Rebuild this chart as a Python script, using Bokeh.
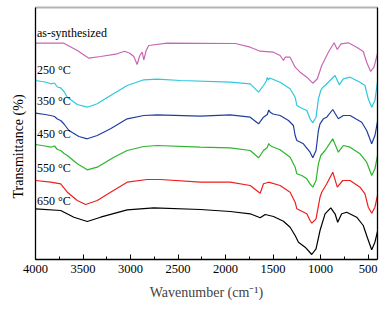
import math
from bokeh.plotting import figure
from bokeh.models import Range1d, SingleIntervalTicker, LinearAxis, FixedTicker, Title
from bokeh.core.properties import value
from bokeh.embed import file_html
from bokeh.resources import INLINE

# ---------------- data (wavenumber cm-1, transmittance in arbitrary offset units) ----------------
wn_as = [4000, 4000, 3701, 3560, 3438, 3315, 3140, 3063, 3007, 2965, 2930, 2902, 2877, 2860, 2835, 2808,
         2615, 1897, 1740, 1635, 1495, 1425, 1390, 1372, 1320, 1267, 1215, 1144, 1081, 1033, 987, 917,
         857, 823, 784, 707, 619, 550, 514, 472, 437, 400]
t_as = [169, 216.3, 216.3, 209, 201.3, 203, 205.7, 208.3, 206.3, 203, 195, 204, 207.3, 199.7, 209, 214,
        216.3, 216, 212.3, 208.3, 207.3, 204, 199, 202.3, 202.3, 192.3, 187.3, 182.3, 176.3, 180.7, 194, 207.3,
        216.7, 210, 215.7, 216.7, 212.3, 208, 197.3, 188, 192.3, 206]

wn_250 = [4000, 3900, 3840, 3800, 3770, 3735, 3700, 3665, 3560, 3455, 3350, 3210, 3035, 2860, 2720, 2475,
          1950, 1740, 1652, 1600, 1570, 1560, 1547, 1535, 1425, 1320, 1267, 1249, 1197, 1144, 1110, 1081,
          1047, 1022, 997, 976, 952, 847, 802, 760, 689, 584, 532, 497, 461, 427, 400]
t_250 = [179, 177.5, 175.7, 176.5, 172.5, 171.7, 168, 162.3, 155, 152.3, 155.7, 164, 174, 179.7, 180.3, 179,
         177.3, 175.7, 167.3, 174, 178.5, 182, 179.5, 181.5, 177.3, 170.7, 162.3, 154, 151.3, 149, 140.7, 136.7,
         142.3, 160.7, 169, 172.3, 174, 184, 174.7, 180.7, 182.3, 177.3, 174, 160.7, 152.3, 159, 178]

wn_350 = [4000, 3900, 3840, 3800, 3770, 3735, 3700, 3648, 3543, 3455, 3350, 3210, 3035, 2860, 2720, 2265,
          1950, 1740, 1652, 1600, 1560, 1545, 1530, 1500, 1425, 1337, 1285, 1267, 1249, 1180, 1110, 1081,
          1047, 1022, 1005, 970, 934, 871, 812, 760, 689, 566, 514, 461, 427, 400]
t_350 = [146.3, 145, 144, 143, 140.5, 139, 135.5, 129, 123, 120.7, 124, 130.7, 140.7, 144, 144.7, 143.3,
         144.7, 142.3, 135.7, 142.3, 145, 149.5, 147.3, 145.5, 144, 139, 134, 124, 119, 115.7, 107.3, 101.7,
         109, 129, 135.7, 140.7, 142.3, 150, 140.7, 144, 144, 137.3, 129, 115.7, 124, 138]

wn_450 = [4000, 3900, 3840, 3800, 3770, 3735, 3700, 3665, 3560, 3455, 3350, 3175, 3035, 2860, 2720, 2265,
          1950, 1740, 1652, 1600, 1560, 1545, 1530, 1500, 1425, 1320, 1267, 1249, 1197, 1144, 1110, 1081,
          1047, 1022, 997, 952, 871, 812, 760, 689, 584, 514, 461, 427, 400]
t_450 = [115, 113.5, 112.3, 113.5, 110, 109, 106, 104, 95.7, 89.7, 92.3, 102.3, 109, 113, 114, 112.3,
         111.7, 109, 101.7, 109, 112, 116, 114, 112.5, 109.7, 102.3, 92.3, 85.7, 84, 80.7, 75.7, 72.3,
         79, 95.7, 104, 109, 120.7, 107.3, 114, 112.3, 105.7, 97.3, 84, 90.7, 104]

wn_550 = [4000, 3840, 3735, 3665, 3560, 3473, 3350, 3210, 3035, 2825, 2685, 2265, 1950, 1740, 1635, 1600,
          1547, 1425, 1320, 1267, 1249, 1197, 1144, 1110, 1092, 1047, 1005, 987, 934, 871, 823, 766,
          689, 584, 532, 497, 461, 427, 400]
t_550 = [79, 77.3, 75.7, 67.3, 59, 55, 59, 67.3, 77.3, 80, 80, 77.3, 77.3, 74, 66.3, 75.7,
         77.3, 74, 67.3, 57.3, 50.7, 48.3, 45.7, 39, 36.3, 40.7, 62.3, 67.3, 75.7, 87.3, 72.3, 79,
         79, 72.3, 65.7, 52.3, 46.3, 52.3, 64]

wn_650 = [4000, 3735, 3596, 3455, 3315, 3035, 2755, 2265, 1950, 1740, 1635, 1582, 1495, 1390, 1320, 1267,
          1232, 1162, 1092, 1047, 1005, 952, 892, 847, 819, 777, 724, 619, 550, 508, 461, 427, 400]
t_650 = [50.7, 49, 42.3, 38, 42.3, 49.7, 51.7, 50, 48, 45.7, 41.7, 45, 43, 38.3, 32.3, 24,
         17.3, 12.3, 5, 10.7, 29, 45.7, 51.7, 45.7, 37.3, 45.7, 47.3, 42.3, 34, 22.3, 9.7, 17.3, 28]

series_names = ["as-synthesized", "250 °C", "350 °C", "450 °C", "550 °C", "650 °C"]
series_colors = ["#c866b4", "#2cc8dc", "#1f3f9f", "#2db42d", "#f01e1e", "#000000"]
label_t = [226.5, 190, 159, 126, 92, 58.3]
label_wn = [3985, 3985, 3985, 3985, 3985, 3985]

x_ticks_interval = 500

# ---------------- figure ----------------
SERIF = "Liberation Serif"
p = figure(width=385, height=310, x_range=Range1d(4000, 400), y_range=Range1d(0, 252),
           output_backend="svg", toolbar_location=None,
           min_border_left=35, min_border_right=8, min_border_top=7, min_border_bottom=51)
p.background_fill_color = "white"
p.border_fill_color = "white"
p.outline_line_color = None
p.grid.visible = False

xs = [wn_as, wn_250, wn_350, wn_450, wn_550, wn_650]
ys = [t_as, t_250, t_350, t_450, t_550, t_650]
for x, y, c in zip(xs, ys, series_colors):
    p.line(x, y, line_color=c, line_width=1.2)

p.text(x=label_wn, y=label_t, text=series_names, text_font=value(SERIF), text_font_size="12px",
       text_baseline="middle", text_align="left", text_color="black")

# bottom axis
xa = p.xaxis[0]
xa.ticker = SingleIntervalTicker(interval=x_ticks_interval, num_minor_ticks=2)
xa.major_tick_in = 5
xa.major_tick_out = 0
xa.minor_tick_in = 3
xa.minor_tick_out = 0
xa.axis_line_width = 1.3
xa.major_tick_line_width = 1
xa.major_label_text_font = SERIF
xa.major_label_text_font_size = "12.5px"
xa.major_label_text_color = "black"
xa.major_label_standoff = 5
xa.axis_label = "Wavenumber (cm⁻¹)"
xa.axis_label_text_font = SERIF
xa.axis_label_text_font_size = "14px"
xa.axis_label_text_font_style = "normal"
xa.axis_label_standoff = 9

# left axis (no ticks)
ya = p.yaxis[0]
ya.ticker = FixedTicker(ticks=[])
ya.major_tick_out = 0
ya.major_tick_in = 0
ya.minor_tick_out = 0
ya.major_label_standoff = 0
ya.axis_line_width = 1.3

# top and right frame lines
top = LinearAxis(ticker=FixedTicker(ticks=[]), major_tick_out=0, major_tick_in=0, minor_tick_out=0,
                 major_label_standoff=0, axis_line_color="#b4b4b4", axis_line_width=2.2)
p.add_layout(top, "above")
right = LinearAxis(ticker=FixedTicker(ticks=[]), major_tick_out=0, major_tick_in=0, minor_tick_out=0,
                   major_label_standoff=0, axis_line_color="black", axis_line_width=1.3)
p.add_layout(right, "right")

# y label as a side title, placed a little below the frame centre as in the original
p.add_layout(Title(text="Transmittance (%)", align="left", offset=61, standoff=16,
                   vertical_align="top",
                   text_font=SERIF, text_font_size="14px", text_font_style="normal",
                   text_color="black"), "left")

open("out.html", "w").write(file_html(p, INLINE))
